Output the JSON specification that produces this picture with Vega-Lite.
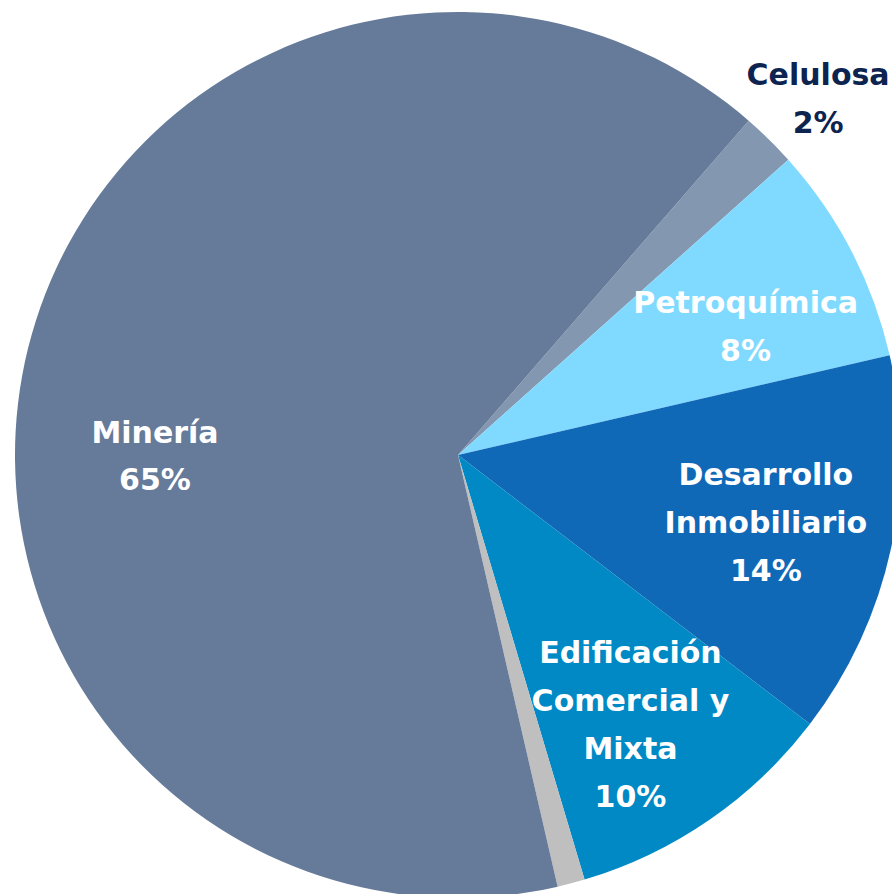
{
  "$schema": "https://vega.github.io/schema/vega-lite/v6.json",
  "width": 868,
  "height": 878,
  "padding": {"left": 24, "top": 16, "right": 0, "bottom": 0},
  "autosize": {"type": "none"},
  "background": "white",
  "view": {"stroke": null},
  "data": {
    "values": [
      {"sector": "Celulosa", "valor": 2, "orden": 1, "etiqueta": "Celulosa\n2%"},
      {"sector": "Petroquímica", "valor": 8, "orden": 2, "etiqueta": "Petroquímica\n8%"},
      {"sector": "Desarrollo Inmobiliario", "valor": 14, "orden": 3, "etiqueta": "Desarrollo\nInmobiliario\n14%"},
      {"sector": "Edificación Comercial y Mixta", "valor": 10, "orden": 4, "etiqueta": "Edificación\nComercial y\nMixta\n10%"},
      {"sector": "Otros", "valor": 1, "orden": 5, "etiqueta": ""},
      {"sector": "Minería", "valor": 65, "orden": 6, "etiqueta": "Minería\n65%"}
    ]
  },
  "encoding": {
    "theta": {"field": "valor", "type": "quantitative", "stack": true, "scale": {"range": [0.7156, 6.9988]}},
    "order": {"field": "orden", "type": "quantitative"}
  },
  "layer": [
    {
      "mark": {"type": "arc", "outerRadius": 443, "stroke": null},
      "encoding": {
        "color": {
          "field": "sector",
          "type": "nominal",
          "legend": null,
          "scale": {
            "domain": ["Celulosa", "Petroquímica", "Desarrollo Inmobiliario", "Edificación Comercial y Mixta", "Otros", "Minería"],
            "range": ["#8497B0", "#80DAFF", "#1069B7", "#0089C5", "#BFBFBF", "#667A99"]
          }
        }
      }
    },
    {
      "mark": {"type": "text", "radius": 510, "dx": 2, "dy": -16, "font": "DejaVu Sans", "fontWeight": "bold", "fontSize": 30, "lineHeight": 48, "lineBreak": "\n", "color": "#0D2350", "align": "center", "baseline": "middle"},
      "encoding": {
        "text": {"field": "etiqueta"},
        "opacity": {"condition": {"test": "datum.orden == 1", "value": 1}, "value": 0}
      }
    },
    {
      "mark": {"type": "text", "radius": 316, "dx": 7, "dy": -6, "font": "DejaVu Sans", "fontWeight": "bold", "fontSize": 30, "lineHeight": 48, "lineBreak": "\n", "color": "white", "align": "center", "baseline": "middle"},
      "encoding": {
        "text": {"field": "etiqueta"},
        "opacity": {"condition": {"test": "datum.orden == 2", "value": 1}, "value": 0}
      }
    },
    {
      "mark": {"type": "text", "radius": 316, "dx": -1, "dy": -46, "font": "DejaVu Sans", "fontWeight": "bold", "fontSize": 30, "lineHeight": 48, "lineBreak": "\n", "color": "white", "align": "center", "baseline": "middle"},
      "encoding": {
        "text": {"field": "etiqueta"},
        "opacity": {"condition": {"test": "datum.orden == 3", "value": 1}, "value": 0}
      }
    },
    {
      "mark": {"type": "text", "radius": 316, "dx": -7, "dy": -61, "font": "DejaVu Sans", "fontWeight": "bold", "fontSize": 30, "lineHeight": 48, "lineBreak": "\n", "color": "white", "align": "center", "baseline": "middle"},
      "encoding": {
        "text": {"field": "etiqueta"},
        "opacity": {"condition": {"test": "datum.orden == 4", "value": 1}, "value": 0}
      }
    },
    {
      "mark": {"type": "text", "radius": 0, "dx": -303, "dy": -21, "font": "DejaVu Sans", "fontWeight": "bold", "fontSize": 30, "lineHeight": 47, "lineBreak": "\n", "color": "white", "align": "center", "baseline": "middle"},
      "encoding": {
        "text": {"field": "etiqueta"},
        "opacity": {"condition": {"test": "datum.orden == 6", "value": 1}, "value": 0}
      }
    }
  ]
}
